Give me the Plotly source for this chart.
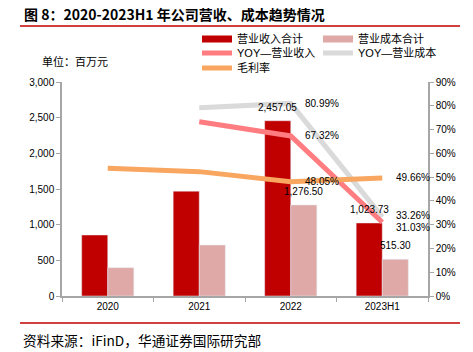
import plotly.graph_objects as go

categories = ["2020", "2021", "2022", "2023H1"]
revenue = [855, 1470, 2457.05, 1023.73]
cost = [397, 715, 1276.50, 515.30]
yoy_revenue = [None, 73.3, 67.32, 31.03]
yoy_cost = [None, 79.2, 80.99, 33.26]
gross_margin = [53.7, 52.3, 48.05, 49.66]

bar_label_idx = [2, 3]
line_label_idx = [2, 3]

C_REV = "#C00000"
C_COST = "#DFA9A7"
C_YREV = "#FF7C80"
C_YCOST = "#DADADA"
C_GM = "#F8A660"
FONT = "Liberation Sans, Noto Sans CJK SC"

W, H = 473, 352
L, R, T, B = 62, 45, 82, 56
PW, PH = W - L - R, H - T - B
BARGAP = 0.43
BAR_W = PW / len(categories) * (1 - BARGAP) / 2


def px(x):
    return (x - L) / PW


def py(y):
    return (H - B - y) / PH


fig = go.Figure()

fig.add_trace(go.Bar(x=categories, y=revenue, marker_color=C_REV, showlegend=False))
fig.add_trace(go.Bar(x=categories, y=cost, marker_color=C_COST, showlegend=False))
fig.add_trace(go.Scatter(x=categories, y=yoy_cost, yaxis="y2", mode="lines",
                         line=dict(color=C_YCOST, width=5), showlegend=False))
fig.add_trace(go.Scatter(x=categories, y=yoy_revenue, yaxis="y2", mode="lines",
                         line=dict(color=C_YREV, width=5), showlegend=False))
fig.add_trace(go.Scatter(x=categories, y=gross_margin, yaxis="y2", mode="lines",
                         line=dict(color=C_GM, width=5), showlegend=False))

# legend entries
legend_items = [
    ("营业收入合计", C_REV, 7, "legend"),
    ("营业成本合计", C_COST, 7, "legend"),
    ("YOY—营业收入", C_YREV, 5, "legend2"),
    ("YOY—营业成本", C_YCOST, 5, "legend2"),
    ("毛利率", C_GM, 5, "legend3"),
]
for name, col, w, lg in legend_items:
    fig.add_trace(go.Scatter(x=[categories[0]], y=[None], mode="lines", name=name,
                             line=dict(color=col, width=w), legend=lg))

ann = []
# bar value labels (annotations so they sit above the lines)
for i in bar_label_idx:
    for arr, side in ((revenue, -1), (cost, 1)):
        v = arr[i]
        ann.append(dict(x=i, y=v, xref="x", yref="y", text=f"{v:,.2f}",
                        showarrow=False, xanchor="center", yanchor="bottom",
                        xshift=side * BAR_W / 2, yshift=6,
                        font=dict(size=10, color="#000", family=FONT)))

# line value labels
for i in line_label_idx:
    for arr in (yoy_cost, yoy_revenue, gross_margin):
        v = arr[i]
        shift = 0
        if i == 3 and arr is yoy_revenue:
            shift = -5
        if i == 3 and arr is yoy_cost:
            shift = 1
        ann.append(dict(x=i, y=v, xref="x", yref="y2", text=f"{v:.2f}%",
                        showarrow=False, xanchor="left", xshift=12, yshift=shift,
                        font=dict(size=10, color="#000", family=FONT)))

ann.append(dict(x=px(22), y=py(14), xref="paper", yref="paper", xanchor="left", yanchor="middle",
                text="<b>图 8：2020-2023H1 年公司营收、成本趋势情况</b>", showarrow=False,
                font=dict(size=14, color="#000", family="Noto Sans CJK SC")))
ann.append(dict(x=px(40), y=py(61), xref="paper", yref="paper", xanchor="left", yanchor="middle",
                text="单位：百万元", showarrow=False,
                font=dict(size=11, color="#000", family="Noto Sans CJK SC")))
ann.append(dict(x=px(21), y=py(340), xref="paper", yref="paper", xanchor="left", yanchor="middle",
                text="资料来源：iFinD，华通证券国际研究部", showarrow=False,
                font=dict(size=13.7, color="#000", family="Noto Sans CJK SC")))

shapes = [
    dict(type="line", xref="paper", yref="paper", x0=px(20), x1=px(460), y0=py(26), y1=py(26),
         line=dict(color="#C00000", width=1.5)),
    dict(type="line", xref="paper", yref="paper", x0=px(20), x1=px(460), y0=py(323), y1=py(323),
         line=dict(color="#C00000", width=1.5)),
]

legend_common = dict(orientation="h", xanchor="left", yanchor="middle", entrywidth=76,
                     entrywidthmode="pixels", font=dict(size=11, color="#000", family=FONT),
                     bgcolor="rgba(0,0,0,0)", itemwidth=30, tracegroupgap=0)

axis_line = "#A6A6A6"
fig.update_layout(
    width=W, height=H, margin=dict(l=L, r=R, t=T, b=B),
    paper_bgcolor="white", plot_bgcolor="white",
    font=dict(family=FONT, size=10, color="#000"),
    barmode="group", bargap=BARGAP, bargroupgap=0,
    xaxis=dict(type="category", categoryorder="array", categoryarray=categories,
               range=[-0.5, len(categories) - 0.5], tickangle=0,
               tickson="boundaries", ticks="outside", ticklen=4,
               tickcolor=axis_line, showline=True, linecolor=axis_line, linewidth=1.5,
               showgrid=False, tickfont=dict(size=10)),
    yaxis=dict(range=[0, 3000], dtick=500, tickformat=",", ticks="outside", ticklen=4,
               tickcolor=axis_line, showline=True, linecolor=axis_line, linewidth=1.5,
               showgrid=False, zeroline=False, tickfont=dict(size=10)),
    yaxis2=dict(range=[0, 90], dtick=10, ticksuffix="%", overlaying="y", side="right",
                ticks="outside", ticklen=4, tickcolor=axis_line, showline=True,
                linecolor=axis_line, linewidth=1.5, showgrid=False, zeroline=False,
                tickfont=dict(size=10)),
    legend=dict(x=px(197), y=py(39), **legend_common),
    legend2=dict(x=px(197), y=py(53), **legend_common),
    legend3=dict(x=px(197), y=py(68), **legend_common),
    annotations=ann, shapes=shapes,
)

fig.write_html("out.html")
